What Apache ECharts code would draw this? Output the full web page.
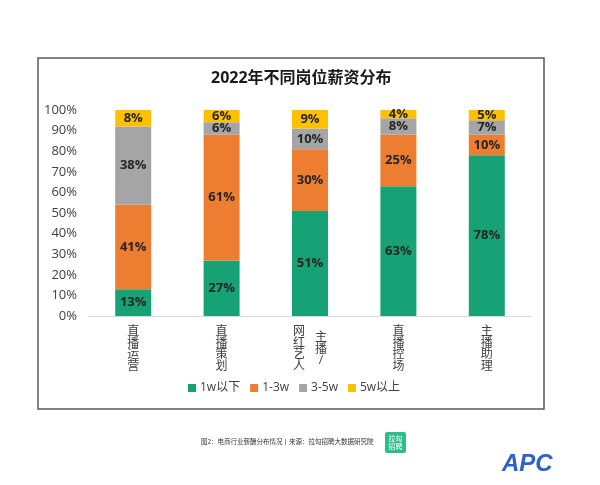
<!DOCTYPE html>
<html>
<head>
<meta charset="utf-8">
<script src="https://cdn.jsdelivr.net/npm/echarts@6/dist/echarts.min.js"></script>
<style>html,body{margin:0;padding:0;background:#fff;}#c{width:600px;height:485px;}</style>
</head>
<body>
<div id="c"></div>
<script>
var categories = ['直播运营', '直播策划', '主播/网红艺人', '直播控场', '主播助理'];
var seriesNames = ['1w以下', '1-3w', '3-5w', '5w以上'];
var below1w = [13, 27, 51, 63, 78];
var from1to3w = [41, 61, 30, 25, 10];
var from3to5w = [38, 6, 10, 8, 7];
var above5w = [8, 6, 9, 4, 5];
var colors = ['#17A276', '#ED7D31', '#A5A5A5', '#FFC000'];
var titleText = '2022年不同岗位薪资分布';
var captionText = '图2：电商行业薪酬分布情况丨来源：拉勾招聘大数据研究院';

var FONT = "'Open Sans','Noto Sans CJK SC',sans-serif";

function verticalLabel(name) {
  var idx = name.indexOf('/');
  if (idx < 0) return name.split('').join('\n');
  var right = name.slice(0, idx + 1).split('');
  var left = name.slice(idx + 1).split('');
  var rows = ['{t| }'];
  var n = Math.max(left.length, right.length);
  for (var i = 0; i < n; i++) {
    if (i < left.length) rows.push('{L|' + left[i] + '}{R| }');
    if (i < right.length) rows.push('{L| }{R|' + right[i] + '}');
  }
  return rows.join('\n');
}

var data = [below1w, from1to3w, from3to5w, above5w];
var series = seriesNames.map(function (nm, i) {
  return {
    name: nm,
    type: 'bar',
    stack: 'total',
    barWidth: 36,
    data: data[i],
    itemStyle: { color: colors[i] },
    label: {
      show: true,
      position: 'inside',
      formatter: '{c}%',
      fontSize: 13,
      fontWeight: 'bold',
      color: '#262626',
      fontFamily: FONT
    }
  };
});

var chart = echarts.init(document.getElementById('c'), null, { renderer: 'canvas' });
chart.setOption({
  backgroundColor: '#fff',
  animation: false,
  title: {
    text: titleText,
    left: 211,
    top: 70,
    padding: 0,
    textStyle: { fontSize: 16, fontWeight: 'bold', color: '#1a1a1a', fontFamily: FONT }
  },
  legend: {
    data: seriesNames,
    left: 188,
    top: 382,
    padding: 0,
    itemWidth: 8,
    itemHeight: 8,
    itemGap: 10,
    icon: 'rect',
    textStyle: { fontSize: 12, color: '#404040', fontFamily: FONT, padding: [0, 0, 0, -1] }
  },
  grid: { left: 89, right: 69, top: 110, bottom: 169, containLabel: false },
  xAxis: {
    type: 'category',
    data: categories,
    axisLine: { lineStyle: { color: '#D9D9D9', width: 1 } },
    axisTick: { show: false },
    axisLabel: {
      interval: 0,
      margin: 10,
      fontSize: 12,
      lineHeight: 11.5,
      color: '#404040',
      fontFamily: FONT,
      formatter: verticalLabel,
      rich: {
        t: { fontSize: 1, lineHeight: 3 },
        L: { fontSize: 12, lineHeight: 5.75, width: 22, align: 'left', color: '#404040', fontFamily: FONT },
        R: { fontSize: 12, lineHeight: 5.75, width: 12, align: 'center', color: '#404040', fontFamily: FONT }
      }
    }
  },
  yAxis: {
    type: 'value',
    min: 0,
    max: 100,
    interval: 10,
    axisLine: { show: false },
    axisTick: { show: false },
    splitLine: { show: false },
    axisLabel: { formatter: '{value}%', fontSize: 13, color: '#404040', margin: 12, fontFamily: FONT }
  },
  series: series,
  graphic: [
    {
      type: 'rect', z: -1, silent: true,
      shape: { x: 38, y: 58, width: 506, height: 351 },
      style: { fill: 'none', stroke: '#595959', lineWidth: 1.5 }
    },
    {
      type: 'text', silent: true, x: 201, y: 442,
      style: { text: captionText, fontSize: 6.5, fill: '#333', fontFamily: "'Noto Sans CJK SC',sans-serif", verticalAlign: 'middle' }
    },
    {
      type: 'rect', silent: true,
      shape: { x: 385, y: 432, width: 21, height: 21, r: 2 },
      style: { fill: '#2DBD8B' }
    },
    {
      type: 'text', silent: true, x: 395.5, y: 442.5,
      style: { text: '拉勾\n招聘', fontSize: 7, lineHeight: 8, fill: '#fff', align: 'center', verticalAlign: 'middle', fontFamily: "'Noto Sans CJK SC',sans-serif" }
    },
    {
      type: 'text', silent: true, x: 502, y: 464,
      style: { text: 'APC', fontSize: 24, fontWeight: 'bold', fontStyle: 'italic', fill: '#2D62C6', verticalAlign: 'middle', fontFamily: "'Liberation Sans',Arial,sans-serif" }
    }
  ]
});
</script>
</body>
</html>
